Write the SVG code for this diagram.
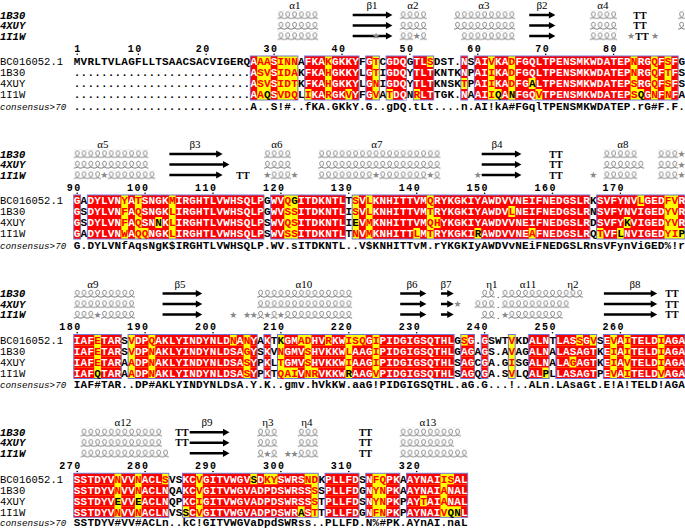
<svg xmlns="http://www.w3.org/2000/svg" xmlns:xlink="http://www.w3.org/1999/xlink" width="685" height="528" viewBox="0 0 685 528">
<style>
.nm{font-family:"Liberation Mono",monospace;font-size:10.5px;fill:#000}
.sl{font-family:"Liberation Mono",monospace;font-size:10.5px;font-weight:bold;font-style:italic;fill:#000}
.cl{font-family:"Liberation Mono",monospace;font-size:9.2px;font-style:italic;fill:#000}
.sq{font-family:"Liberation Mono",monospace;font-size:11px;font-weight:bold;letter-spacing:0.19px;fill:#fff}
.sq .r{fill:#f00}
.sq .b{fill:#000}
.cs{font-family:"Liberation Mono",monospace;font-size:11px;font-weight:bold;letter-spacing:0.19px;fill:#000}
.num{font-family:"Liberation Mono",monospace;font-size:10px;font-weight:bold;letter-spacing:1.5px;text-anchor:end;fill:#000}
.lab{font-family:"Liberation Serif",serif;font-size:11px;text-anchor:middle;fill:#000}
.tt{font-family:"Liberation Serif",serif;font-size:10px;font-weight:bold;text-anchor:middle;fill:#000}
.st{font-family:"DejaVu Sans",sans-serif;font-size:9px;fill:#888;text-anchor:middle}
.hd{font-family:"Liberation Serif",serif;font-size:10px;fill:#444;text-anchor:middle}
.fy{fill:#ff0;stroke:none}
.fo{fill:none;stroke:#7373d6;stroke-width:1}
.rd{fill:#f00}
.hx{fill:url(#hx)}
.ar{fill:#000}
.dt{fill:#000}
</style>
<defs>
<pattern id="hx" patternUnits="userSpaceOnUse" x="73.8" y="-4.5" width="6.79" height="9"><path d="M-0.2,8.2 C2.6,8.2 5.4,6 5.4,3.4 C5.4,0.6 1.6,0.6 1.6,3.4 C1.6,6 4.2,8.2 7,8.2" fill="none" stroke="#666" stroke-width="0.85"/></pattern>
<g id="f1"><rect x="250.34" y="-5.5" width="47.53" height="44"/><rect x="304.66" y="-5.5" width="54.32" height="44"/><rect x="365.77" y="-5.5" width="13.58" height="44"/><rect x="386.14" y="-5.5" width="20.37" height="44"/><rect x="413.3" y="-5.5" width="20.37" height="44"/><rect x="460.83" y="-5.5" width="6.79" height="44"/><rect x="474.41" y="-5.5" width="203.7" height="44"/></g>
<g id="f2"><rect x="73.8" y="-5.5" width="6.79" height="44"/><rect x="87.38" y="-5.5" width="176.54" height="44"/><rect x="270.71" y="-5.5" width="74.69" height="44"/><rect x="352.19" y="-5.5" width="237.65" height="44"/><rect x="596.63" y="-5.5" width="88.27" height="44"/></g>
<g id="f3"><rect x="73.8" y="-5.5" width="47.53" height="44"/><rect x="128.12" y="-5.5" width="129.01" height="44"/><rect x="263.92" y="-5.5" width="6.79" height="44"/><rect x="277.5" y="-5.5" width="176.54" height="44"/><rect x="460.83" y="-5.5" width="13.58" height="44"/><rect x="481.2" y="-5.5" width="6.79" height="44"/><rect x="508.36" y="-5.5" width="6.79" height="44"/><rect x="528.73" y="-5.5" width="20.37" height="44"/><rect x="555.89" y="-5.5" width="40.74" height="44"/><rect x="603.42" y="-5.5" width="81.48" height="44"/></g>
<g id="f4"><rect x="73.8" y="-5.5" width="95.06" height="44"/><rect x="182.44" y="-5.5" width="135.8" height="44"/><rect x="325.03" y="-5.5" width="33.95" height="44"/><rect x="365.77" y="-5.5" width="33.95" height="44"/><rect x="406.51" y="-5.5" width="61.11" height="44"/></g>
</defs>
<rect width="685" height="528" fill="#fff"/>

<g id="block1" transform="translate(0,61.5)">
<g id="ss1">
<text class="lab" x="295" y="-52.5">α1</text><text class="lab" x="372" y="-52.5">β1</text><text class="lab" x="413" y="-52.5">α2</text><text class="lab" x="484" y="-52.5">α3</text><text class="lab" x="542" y="-52.5">β2</text><text class="lab" x="603" y="-52.5">α4</text>
<g transform="translate(0,-46.5)"><text class="sl" x="0" y="3.5">1B30</text><rect class="hx" x="277.5" y="-4.5" width="40.74" height="9"/><path class="ar" d="M352.69,-1.2H385.93V-3.6L392.43,0L385.93,3.6V1.2H352.69Z"/><rect class="hx" x="399.72" y="-4.5" width="27.16" height="9"/><rect class="hx" x="454.04" y="-4.5" width="61.11" height="9"/><path class="ar" d="M529.23,-1.2H548.89V-3.6L555.39,0L548.89,3.6V1.2H529.23Z"/><rect class="hx" x="589.84" y="-4.5" width="27.16" height="9"/><text class="tt" x="640" y="3.5">TT</text><rect class="hx" x="678.11" y="-4.5" width="6.79" height="9"/></g>
<g transform="translate(0,-36)"><text class="sl" x="0" y="3.5">4XUY</text><rect class="hx" x="277.5" y="-4.5" width="40.74" height="9"/><path class="ar" d="M352.69,-1.2H385.93V-3.6L392.43,0L385.93,3.6V1.2H352.69Z"/><rect class="hx" x="399.72" y="-4.5" width="27.16" height="9"/><rect class="hx" x="454.04" y="-4.5" width="61.11" height="9"/><path class="ar" d="M529.23,-1.2H548.89V-3.6L555.39,0L548.89,3.6V1.2H529.23Z"/><rect class="hx" x="589.84" y="-4.5" width="27.16" height="9"/><text class="tt" x="640" y="3.5">TT</text><rect class="hx" x="678.11" y="-4.5" width="6.79" height="9"/></g>
<g transform="translate(0,-25.5)"><text class="sl" x="0" y="3.5">1I1W</text><rect class="hx" x="277.5" y="-4.5" width="40.74" height="9"/><path class="ar" d="M352.69,-1.2H385.93V-3.6L392.43,0L385.93,3.6V1.2H352.69Z"/><text class="st" x="376" y="3.2">★</text><rect class="hx" x="399.72" y="-4.5" width="13.58" height="9"/><text class="st" x="416.7" y="3.2">★</text><rect class="hx" x="420.09" y="-4.5" width="6.79" height="9"/><rect class="hx" x="460.83" y="-4.5" width="54.32" height="9"/><path class="ar" d="M529.23,-1.2H548.89V-3.6L555.39,0L548.89,3.6V1.2H529.23Z"/><rect class="hx" x="589.84" y="-4.5" width="27.16" height="9"/><text class="st" x="631" y="3.2">★</text><text class="tt" x="642" y="3.5">TT</text><text class="st" x="655" y="3.2">★</text></g>
</g>
<g id="num1"><text class="num" x="81.7" y="-10">1</text><text class="num" x="142.8" y="-10">10</text><text class="num" x="210.7" y="-10">20</text><text class="num" x="278.6" y="-10">30</text><text class="num" x="346.5" y="-10">40</text><text class="num" x="414.4" y="-10">50</text><text class="num" x="482.3" y="-10">60</text><text class="num" x="550.2" y="-10">70</text><text class="num" x="618.1" y="-10">80</text>
<circle class="dt" cx="77.2" cy="-7.3" r="0.8"/><circle class="dt" cx="138.3" cy="-7.3" r="0.8"/><circle class="dt" cx="206.2" cy="-7.3" r="0.8"/><circle class="dt" cx="274.1" cy="-7.3" r="0.8"/><circle class="dt" cx="342" cy="-7.3" r="0.8"/><circle class="dt" cx="409.9" cy="-7.3" r="0.8"/><circle class="dt" cx="477.8" cy="-7.3" r="0.8"/><circle class="dt" cx="545.7" cy="-7.3" r="0.8"/><circle class="dt" cx="613.6" cy="-7.3" r="0.8"/></g>
<use href="#f1" class="fy"/>
<g class="rd" transform="translate(73.8,0) scale(6.79,1)">
<g transform="translate(0,-5.5)"><rect x="26" width="1" height="11"/><rect x="29" width="1" height="11"/><rect x="34" width="3" height="11"/><rect x="38" width="4" height="11"/><rect x="43" width="1" height="11"/><rect x="46" width="3" height="11"/><rect x="50" width="2" height="11"/><rect x="57" width="1" height="11"/><rect x="59" width="2" height="11"/><rect x="62" width="2" height="11"/><rect x="65" width="17" height="11"/><rect x="83" width="2" height="11"/><rect x="86" width="1" height="11"/><rect x="88" width="1" height="11"/></g>
<g transform="translate(0,5.5)"><rect x="26" width="1" height="11"/><rect x="29" width="1" height="11"/><rect x="34" width="3" height="11"/><rect x="38" width="4" height="11"/><rect x="43" width="1" height="11"/><rect x="46" width="3" height="11"/><rect x="50" width="3" height="11"/><rect x="57" width="1" height="11"/><rect x="59" width="2" height="11"/><rect x="62" width="2" height="11"/><rect x="65" width="17" height="11"/><rect x="83" width="2" height="11"/><rect x="86" width="1" height="11"/><rect x="88" width="1" height="11"/></g>
<g transform="translate(0,16.5)"><rect x="26" width="1" height="11"/><rect x="29" width="1" height="11"/><rect x="34" width="3" height="11"/><rect x="38" width="4" height="11"/><rect x="43" width="1" height="11"/><rect x="46" width="3" height="11"/><rect x="50" width="3" height="11"/><rect x="59" width="2" height="11"/><rect x="62" width="2" height="11"/><rect x="65" width="2" height="11"/><rect x="68" width="14" height="11"/><rect x="83" width="2" height="11"/><rect x="86" width="1" height="11"/><rect x="88" width="1" height="11"/></g>
<g transform="translate(0,27.5)"><rect x="26" width="1" height="11"/><rect x="29" width="1" height="11"/><rect x="35" width="2" height="11"/><rect x="38" width="2" height="11"/><rect x="41" width="1" height="11"/><rect x="43" width="1" height="11"/><rect x="47" width="2" height="11"/><rect x="51" width="2" height="11"/><rect x="57" width="1" height="11"/><rect x="59" width="2" height="11"/><rect x="63" width="1" height="11"/><rect x="65" width="3" height="11"/><rect x="69" width="13" height="11"/><rect x="84" width="1" height="11"/><rect x="86" width="1" height="11"/><rect x="88" width="1" height="11"/></g>
</g>
<use href="#f1" class="fo"/>
<g id="seq1">
<text class="nm" x="0" y="3.8">BC016052.1</text><text class="nm" x="0" y="14.8">1B30</text><text class="nm" x="0" y="25.8">4XUY</text><text class="nm" x="0" y="36.8">1I1W</text><text class="cl" x="0" y="48">consensus&gt;70</text>
<text class="sq" x="73.8" y="3.8"><tspan class="b">MVRLTVLAGFLLTSAACSACVIGERQ</tspan>A<tspan class="r">AA</tspan>S<tspan class="r">INN</tspan><tspan class="b">A</tspan>FKA<tspan class="r">K</tspan>GKKY<tspan class="b">F</tspan>G<tspan class="r">T</tspan><tspan class="b">C</tspan>GDQ<tspan class="b">G</tspan>TL<tspan class="r">S</tspan><tspan class="b">DST.</tspan>N<tspan class="b">S</tspan>AI<tspan class="r">V</tspan>KA<tspan class="r">D</tspan>FGQLTPENSMKWDATEP<tspan class="r">N</tspan>RG<tspan class="r">Q</tspan>F<tspan class="r">S</tspan>F<tspan class="b">G</tspan></text>
<text class="sq" x="73.8" y="14.8"><tspan class="b">..........................</tspan>A<tspan class="r">SV</tspan>S<tspan class="r">IDA</tspan><tspan class="b">K</tspan>FKA<tspan class="r">H</tspan>GKKY<tspan class="b">L</tspan>G<tspan class="r">T</tspan><tspan class="b">I</tspan>GDQ<tspan class="b">Y</tspan>TLT<tspan class="b">KNTK</tspan>N<tspan class="b">P</tspan>AI<tspan class="r">I</tspan>KA<tspan class="r">D</tspan>FGQLTPENSMKWDATEP<tspan class="r">N</tspan>RG<tspan class="r">Q</tspan>F<tspan class="r">T</tspan>F<tspan class="b">S</tspan></text>
<text class="sq" x="73.8" y="25.8"><tspan class="b">..........................</tspan>A<tspan class="r">SV</tspan>S<tspan class="r">IDT</tspan><tspan class="b">K</tspan>FKA<tspan class="r">H</tspan>GKKY<tspan class="b">L</tspan>G<tspan class="r">N</tspan><tspan class="b">I</tspan>GDQ<tspan class="b">Y</tspan>TLT<tspan class="b">KNSK</tspan><tspan class="r">T</tspan><tspan class="b">P</tspan>AI<tspan class="r">I</tspan>KA<tspan class="r">D</tspan>FG<tspan class="b">A</tspan>LTPENSMKWDATEP<tspan class="r">S</tspan>RG<tspan class="r">Q</tspan>F<tspan class="r">S</tspan>F<tspan class="b">S</tspan></text>
<text class="sq" x="73.8" y="36.8"><tspan class="b">..........................</tspan>A<tspan class="r">A</tspan><tspan class="b">Q</tspan>S<tspan class="r">VDQ</tspan><tspan class="b">L</tspan><tspan class="r">I</tspan>KA<tspan class="r">R</tspan>GK<tspan class="r">V</tspan>Y<tspan class="b">F</tspan>G<tspan class="r">V</tspan><tspan class="b">A</tspan><tspan class="r">T</tspan>DQ<tspan class="b">N</tspan><tspan class="r">R</tspan>LT<tspan class="b">TGK.</tspan>N<tspan class="b">A</tspan>AI<tspan class="r">I</tspan><tspan class="b">Q</tspan>A<tspan class="b">N</tspan>FGQ<tspan class="r">V</tspan>TPENSMKWDATEP<tspan class="r">S</tspan><tspan class="b">Q</tspan>G<tspan class="r">N</tspan>F<tspan class="r">N</tspan>F<tspan class="b">A</tspan></text>
<text class="cs" x="73.8" y="48">..........................A..S!#..fKA.GKkY.G..gDQ.tLt....n.AI!kA#FGqlTPENSMKWDATEP.rG#F.F.</text>
</g>
</g>

<g id="block2" transform="translate(0,200.5)">
<g id="ss2">
<text class="lab" x="103" y="-52.5">α5</text><text class="lab" x="195" y="-52.5">β3</text><text class="lab" x="277" y="-52.5">α6</text><text class="lab" x="377" y="-52.5">α7</text><text class="lab" x="497" y="-52.5">β4</text><text class="lab" x="623" y="-52.5">α8</text>
<g transform="translate(0,-46.5)"><text class="sl" x="0" y="3.5">1B30</text><rect class="hx" x="73.8" y="-4.5" width="74.69" height="9"/><path class="ar" d="M169.36,-1.2H216.18V-3.6L222.68,0L216.18,3.6V1.2H169.36Z"/><rect class="hx" x="263.92" y="-4.5" width="27.16" height="9"/><rect class="hx" x="318.24" y="-4.5" width="122.22" height="9"/><path class="ar" d="M481.7,-1.2H514.94V-3.6L521.44,0L514.94,3.6V1.2H481.7Z"/><text class="tt" x="555.9" y="3.5">TT</text><rect class="hx" x="603.42" y="-4.5" width="33.95" height="9"/><rect class="hx" x="657.74" y="-4.5" width="20.37" height="9"/><text class="st" x="681.5" y="3.2">★</text></g>
<g transform="translate(0,-36)"><text class="sl" x="0" y="3.5">4XUY</text><rect class="hx" x="73.8" y="-4.5" width="74.69" height="9"/><path class="ar" d="M169.36,-1.2H222.97V-3.6L229.47,0L222.97,3.6V1.2H169.36Z"/><rect class="hx" x="263.92" y="-4.5" width="27.16" height="9"/><rect class="hx" x="318.24" y="-4.5" width="122.22" height="9"/><path class="ar" d="M481.7,-1.2H514.94V-3.6L521.44,0L514.94,3.6V1.2H481.7Z"/><text class="tt" x="555.9" y="3.5">TT</text><rect class="hx" x="603.42" y="-4.5" width="40.74" height="9"/><rect class="hx" x="657.74" y="-4.5" width="20.37" height="9"/><text class="st" x="681.5" y="3.2">★</text></g>
<g transform="translate(0,-25.5)"><text class="sl" x="0" y="3.5">1I1W</text><rect class="hx" x="73.8" y="-4.5" width="27.16" height="9"/><text class="st" x="104.4" y="3.2">★</text><rect class="hx" x="107.75" y="-4.5" width="47.53" height="9"/><path class="ar" d="M169.36,-1.2H216.18V-3.6L222.68,0L216.18,3.6V1.2H169.36Z"/><text class="tt" x="243" y="3.5">TT</text><text class="st" x="267.3" y="3.2">★</text><rect class="hx" x="270.71" y="-4.5" width="20.37" height="9"/><text class="st" x="294.5" y="3.2">★</text><rect class="hx" x="318.24" y="-4.5" width="54.32" height="9"/><text class="st" x="376" y="3.2">★</text><rect class="hx" x="379.35" y="-4.5" width="47.53" height="9"/><text class="st" x="430.3" y="3.2">★</text><rect class="hx" x="433.67" y="-4.5" width="6.79" height="9"/><text class="st" x="477.8" y="3.2">★</text><path class="ar" d="M481.7,-1.2H514.94V-3.6L521.44,0L514.94,3.6V1.2H481.7Z"/><text class="tt" x="555.9" y="3.5">TT</text><text class="st" x="593.2" y="3.2">★</text><rect class="hx" x="603.42" y="-4.5" width="33.95" height="9"/><rect class="hx" x="657.74" y="-4.5" width="20.37" height="9"/><text class="st" x="681.5" y="3.2">★</text></g>
</g>
<g id="num2"><text class="num" x="81.7" y="-10">90</text><text class="num" x="149.6" y="-10">100</text><text class="num" x="217.5" y="-10">110</text><text class="num" x="285.4" y="-10">120</text><text class="num" x="353.3" y="-10">130</text><text class="num" x="421.2" y="-10">140</text><text class="num" x="489.1" y="-10">150</text><text class="num" x="557" y="-10">160</text><text class="num" x="624.9" y="-10">170</text>
<circle class="dt" cx="77.2" cy="-7.3" r="0.8"/><circle class="dt" cx="145.1" cy="-7.3" r="0.8"/><circle class="dt" cx="213" cy="-7.3" r="0.8"/><circle class="dt" cx="280.9" cy="-7.3" r="0.8"/><circle class="dt" cx="348.8" cy="-7.3" r="0.8"/><circle class="dt" cx="416.7" cy="-7.3" r="0.8"/><circle class="dt" cx="484.6" cy="-7.3" r="0.8"/><circle class="dt" cx="552.5" cy="-7.3" r="0.8"/><circle class="dt" cx="620.4" cy="-7.3" r="0.8"/></g>
<use href="#f2" class="fy"/>
<g class="rd" transform="translate(73.8,0) scale(6.79,1)">
<g transform="translate(0,-5.5)"><rect x="0" width="1" height="11"/><rect x="2" width="5" height="11"/><rect x="8" width="1" height="11"/><rect x="10" width="4" height="11"/><rect x="15" width="13" height="11"/><rect x="29" width="2" height="11"/><rect x="33" width="7" height="11"/><rect x="42" width="1" height="11"/><rect x="44" width="8" height="11"/><rect x="53" width="23" height="11"/><rect x="77" width="6" height="11"/><rect x="84" width="3" height="11"/><rect x="89" width="1" height="11"/></g>
<g transform="translate(0,5.5)"><rect x="0" width="1" height="11"/><rect x="2" width="5" height="11"/><rect x="8" width="1" height="11"/><rect x="10" width="4" height="11"/><rect x="15" width="13" height="11"/><rect x="29" width="2" height="11"/><rect x="33" width="7" height="11"/><rect x="42" width="1" height="11"/><rect x="44" width="8" height="11"/><rect x="53" width="11" height="11"/><rect x="65" width="11" height="11"/><rect x="77" width="10" height="11"/><rect x="89" width="1" height="11"/></g>
<g transform="translate(0,16.5)"><rect x="0" width="1" height="11"/><rect x="2" width="5" height="11"/><rect x="8" width="1" height="11"/><rect x="10" width="2" height="11"/><rect x="13" width="1" height="11"/><rect x="15" width="13" height="11"/><rect x="29" width="2" height="11"/><rect x="33" width="7" height="11"/><rect x="42" width="1" height="11"/><rect x="44" width="8" height="11"/><rect x="54" width="22" height="11"/><rect x="77" width="4" height="11"/><rect x="82" width="5" height="11"/><rect x="89" width="1" height="11"/></g>
<g transform="translate(0,27.5)"><rect x="0" width="1" height="11"/><rect x="2" width="5" height="11"/><rect x="8" width="1" height="11"/><rect x="11" width="3" height="11"/><rect x="15" width="13" height="11"/><rect x="29" width="2" height="11"/><rect x="33" width="7" height="11"/><rect x="42" width="1" height="11"/><rect x="44" width="6" height="11"/><rect x="51" width="1" height="11"/><rect x="53" width="6" height="11"/><rect x="60" width="7" height="11"/><rect x="68" width="8" height="11"/><rect x="78" width="2" height="11"/><rect x="81" width="6" height="11"/></g>
</g>
<use href="#f2" class="fo"/>
<g id="seq2">
<text class="nm" x="0" y="3.8">BC016052.1</text><text class="nm" x="0" y="14.8">1B30</text><text class="nm" x="0" y="25.8">4XUY</text><text class="nm" x="0" y="36.8">1I1W</text><text class="cl" x="0" y="48">consensus&gt;70</text>
<text class="sq" x="73.8" y="3.8">G<tspan class="b">A</tspan>DYLVN<tspan class="r">Y</tspan>A<tspan class="r">T</tspan>SNGK<tspan class="r">M</tspan>IRGHTLVWHSQLP<tspan class="b">G</tspan>WV<tspan class="r">Q</tspan><tspan class="b">G</tspan>ITDKNTL<tspan class="b">T</tspan><tspan class="r">S</tspan>V<tspan class="r">L</tspan>KNHITTVM<tspan class="r">Q</tspan>RYKGKIYAWDVVNEIFNEDGSLR<tspan class="b">K</tspan>SVFYNV<tspan class="r">L</tspan>GED<tspan class="r">FV</tspan>R</text>
<text class="sq" x="73.8" y="14.8">G<tspan class="b">S</tspan>DYLVN<tspan class="r">F</tspan>A<tspan class="r">Q</tspan>SNGK<tspan class="r">L</tspan>IRGHTLVWHSQLP<tspan class="b">G</tspan>WV<tspan class="r">SS</tspan>ITDKNTL<tspan class="b">I</tspan><tspan class="r">S</tspan>V<tspan class="r">L</tspan>KNHITTVM<tspan class="r">T</tspan>RYKGKIYAWDV<tspan class="r">L</tspan>NEIFNEDGSLR<tspan class="b">N</tspan>SVFYNVIGED<tspan class="r">YV</tspan>R</text>
<text class="sq" x="73.8" y="25.8">G<tspan class="b">S</tspan>DYLVN<tspan class="r">F</tspan>A<tspan class="r">Q</tspan>SN<tspan class="b">N</tspan>K<tspan class="r">L</tspan>IRGHTLVWHSQLP<tspan class="b">S</tspan>WV<tspan class="r">QS</tspan>ITDKNTL<tspan class="b">IE</tspan>V<tspan class="r">M</tspan>KNHITTVM<tspan class="r">QH</tspan>YKGKIYAWDVVNEIFNEDGSLR<tspan class="b">D</tspan>SVFY<tspan class="b">K</tspan>VIGED<tspan class="r">YV</tspan>R</text>
<text class="sq" x="73.8" y="36.8">G<tspan class="b">A</tspan>DYLVN<tspan class="r">W</tspan>A<tspan class="r">QQ</tspan>NGK<tspan class="r">L</tspan>IRGHTLVWHSQLP<tspan class="b">S</tspan>WV<tspan class="r">SS</tspan>ITDKNTL<tspan class="b">T</tspan><tspan class="r">N</tspan>V<tspan class="r">M</tspan>KNHITT<tspan class="r">L</tspan>M<tspan class="r">T</tspan>RYKGKI<tspan class="b">R</tspan>AWDVVNE<tspan class="r">A</tspan>FNEDGSLR<tspan class="b">Q</tspan><tspan class="r">T</tspan>VF<tspan class="b">L</tspan>NVIGED<tspan class="r">YI</tspan><tspan class="b">P</tspan></text>
<text class="cs" x="73.8" y="48">G.DYLVNfAqsNgK$IRGHTLVWHSQLP.WV.sITDKNTL..V$KNHITTvM.rYKGKIyAWDVvNEiFNEDGSLRnsVFynViGED%!r</text>
</g>
</g>

<g id="block3" transform="translate(0,340)">
<g id="ss3">
<text class="lab" x="93" y="-52.5">α9</text><text class="lab" x="180" y="-52.5">β5</text><text class="lab" x="304" y="-52.5">α10</text><text class="lab" x="412" y="-52.5">β6</text><text class="lab" x="446" y="-52.5">β7</text><text class="lab" x="492" y="-52.5">η1</text><text class="lab" x="528" y="-52.5">α11</text><text class="lab" x="573" y="-52.5">η2</text><text class="lab" x="635" y="-52.5">β8</text>
<g transform="translate(0,-46.5)"><text class="sl" x="0" y="3.5">1B30</text><rect class="hx" x="73.8" y="-4.5" width="61.11" height="9"/><path class="ar" d="M162.57,-1.2H195.81V-3.6L202.31,0L195.81,3.6V1.2H162.57Z"/><rect class="hx" x="257.13" y="-4.5" width="95.06" height="9"/><path class="ar" d="M400.22,-1.2H419.88V-3.6L426.38,0L419.88,3.6V1.2H400.22Z"/><path class="ar" d="M440.96,-1.2H447.25V-3.6L453.75,0L447.25,3.6V1.2H440.96Z"/><rect class="hx" x="481.2" y="-4.5" width="13.58" height="9"/><text class="hd" x="498.2" y="4">.</text><rect class="hx" x="501.57" y="-4.5" width="81.48" height="9"/><path class="ar" d="M603.92,-1.2H650.74V-3.6L657.24,0L650.74,3.6V1.2H603.92Z"/><text class="tt" x="672" y="3.5">TT</text></g>
<g transform="translate(0,-36)"><text class="sl" x="0" y="3.5">4XUY</text><rect class="hx" x="73.8" y="-4.5" width="61.11" height="9"/><path class="ar" d="M162.57,-1.2H195.81V-3.6L202.31,0L195.81,3.6V1.2H162.57Z"/><rect class="hx" x="257.13" y="-4.5" width="95.06" height="9"/><path class="ar" d="M400.22,-1.2H419.88V-3.6L426.38,0L419.88,3.6V1.2H400.22Z"/><path class="ar" d="M440.96,-1.2H447.25V-3.6L453.75,0L447.25,3.6V1.2H440.96Z"/><text class="st" x="457.5" y="3.2">★</text><rect class="hx" x="474.41" y="-4.5" width="20.37" height="9"/><text class="hd" x="498.2" y="4">.</text><rect class="hx" x="501.57" y="-4.5" width="67.9" height="9"/><path class="ar" d="M603.92,-1.2H650.74V-3.6L657.24,0L650.74,3.6V1.2H603.92Z"/><text class="tt" x="672" y="3.5">TT</text></g>
<g transform="translate(0,-25.5)"><text class="sl" x="0" y="3.5">1I1W</text><rect class="hx" x="73.8" y="-4.5" width="20.37" height="9"/><text class="st" x="97.6" y="3.2">★</text><rect class="hx" x="100.96" y="-4.5" width="33.95" height="9"/><path class="ar" d="M162.57,-1.2H195.81V-3.6L202.31,0L195.81,3.6V1.2H162.57Z"/><text class="st" x="233.4" y="3.2">★</text><text class="st" x="247" y="3.2">★</text><text class="st" x="253.7" y="3.2">★</text><rect class="hx" x="257.13" y="-4.5" width="6.79" height="9"/><text class="st" x="267.3" y="3.2">★</text><rect class="hx" x="270.71" y="-4.5" width="6.79" height="9"/><text class="st" x="280.9" y="3.2">★</text><rect class="hx" x="284.29" y="-4.5" width="67.9" height="9"/><path class="ar" d="M400.22,-1.2H419.88V-3.6L426.38,0L419.88,3.6V1.2H400.22Z"/><path class="ar" d="M440.96,-1.2H447.25V-3.6L453.75,0L447.25,3.6V1.2H440.96Z"/><rect class="hx" x="481.2" y="-4.5" width="13.58" height="9"/><text class="hd" x="498.2" y="4">.</text><text class="st" x="505" y="3.2">★</text><rect class="hx" x="508.36" y="-4.5" width="54.32" height="9"/><path class="ar" d="M603.92,-1.2H650.74V-3.6L657.24,0L650.74,3.6V1.2H603.92Z"/><text class="tt" x="672" y="3.5">TT</text></g>
</g>
<g id="num3"><text class="num" x="81.7" y="-10">180</text><text class="num" x="149.6" y="-10">190</text><text class="num" x="217.5" y="-10">200</text><text class="num" x="285.4" y="-10">210</text><text class="num" x="353.3" y="-10">220</text><text class="num" x="421.2" y="-10">230</text><text class="num" x="489.1" y="-10">240</text><text class="num" x="557" y="-10">250</text><text class="num" x="624.9" y="-10">260</text>
<circle class="dt" cx="77.2" cy="-7.3" r="0.8"/><circle class="dt" cx="145.1" cy="-7.3" r="0.8"/><circle class="dt" cx="213" cy="-7.3" r="0.8"/><circle class="dt" cx="280.9" cy="-7.3" r="0.8"/><circle class="dt" cx="348.8" cy="-7.3" r="0.8"/><circle class="dt" cx="416.7" cy="-7.3" r="0.8"/><circle class="dt" cx="484.6" cy="-7.3" r="0.8"/><circle class="dt" cx="552.5" cy="-7.3" r="0.8"/><circle class="dt" cx="620.4" cy="-7.3" r="0.8"/></g>
<use href="#f3" class="fy"/>
<g class="rd" transform="translate(73.8,0) scale(6.79,1)">
<g transform="translate(0,-5.5)"><rect x="0" width="3" height="11"/><rect x="4" width="3" height="11"/><rect x="9" width="2" height="11"/><rect x="12" width="11" height="11"/><rect x="24" width="1" height="11"/><rect x="26" width="1" height="11"/><rect x="28" width="1" height="11"/><rect x="31" width="2" height="11"/><rect x="35" width="2" height="11"/><rect x="38" width="2" height="11"/><rect x="43" width="1" height="11"/><rect x="45" width="11" height="11"/><rect x="58" width="1" height="11"/><rect x="60" width="1" height="11"/><rect x="67" width="3" height="11"/><rect x="71" width="3" height="11"/><rect x="75" width="1" height="11"/><rect x="78" width="1" height="11"/><rect x="80" width="1" height="11"/><rect x="82" width="4" height="11"/><rect x="87" width="3" height="11"/></g>
<g transform="translate(0,5.5)"><rect x="0" width="3" height="11"/><rect x="4" width="3" height="11"/><rect x="9" width="2" height="11"/><rect x="12" width="13" height="11"/><rect x="26" width="1" height="11"/><rect x="28" width="1" height="11"/><rect x="31" width="3" height="11"/><rect x="35" width="5" height="11"/><rect x="41" width="3" height="11"/><rect x="45" width="11" height="11"/><rect x="57" width="2" height="11"/><rect x="60" width="1" height="11"/><rect x="67" width="3" height="11"/><rect x="71" width="6" height="11"/><rect x="78" width="1" height="11"/><rect x="80" width="1" height="11"/><rect x="82" width="4" height="11"/><rect x="87" width="3" height="11"/></g>
<g transform="translate(0,16.5)"><rect x="0" width="3" height="11"/><rect x="4" width="3" height="11"/><rect x="9" width="2" height="11"/><rect x="12" width="13" height="11"/><rect x="26" width="1" height="11"/><rect x="28" width="1" height="11"/><rect x="31" width="3" height="11"/><rect x="35" width="5" height="11"/><rect x="41" width="3" height="11"/><rect x="45" width="11" height="11"/><rect x="57" width="2" height="11"/><rect x="60" width="1" height="11"/><rect x="67" width="3" height="11"/><rect x="71" width="2" height="11"/><rect x="74" width="3" height="11"/><rect x="78" width="1" height="11"/><rect x="80" width="1" height="11"/><rect x="82" width="4" height="11"/><rect x="87" width="3" height="11"/></g>
<g transform="translate(0,27.5)"><rect x="0" width="3" height="11"/><rect x="4" width="3" height="11"/><rect x="9" width="2" height="11"/><rect x="12" width="13" height="11"/><rect x="26" width="1" height="11"/><rect x="28" width="1" height="11"/><rect x="33" width="1" height="11"/><rect x="36" width="4" height="11"/><rect x="41" width="3" height="11"/><rect x="45" width="11" height="11"/><rect x="57" width="2" height="11"/><rect x="60" width="1" height="11"/><rect x="67" width="2" height="11"/><rect x="71" width="6" height="11"/><rect x="78" width="1" height="11"/><rect x="80" width="1" height="11"/><rect x="82" width="4" height="11"/><rect x="87" width="3" height="11"/></g>
</g>
<use href="#f3" class="fo"/>
<g id="seq3">
<text class="nm" x="0" y="3.8">BC016052.1</text><text class="nm" x="0" y="14.8">1B30</text><text class="nm" x="0" y="25.8">4XUY</text><text class="nm" x="0" y="36.8">1I1W</text><text class="cl" x="0" y="48">consensus&gt;70</text>
<text class="sq" x="73.8" y="3.8">IAF<tspan class="r">E</tspan>TAR<tspan class="b">S</tspan><tspan class="r">V</tspan>DP<tspan class="r">Q</tspan>AKLYINDYNLD<tspan class="r">N</tspan>A<tspan class="r">N</tspan>Y<tspan class="b">A</tspan>K<tspan class="b">TK</tspan>GM<tspan class="r">AD</tspan>HV<tspan class="r">R</tspan>KW<tspan class="r">ISQ</tspan>G<tspan class="r">I</tspan>PIDGIGSQTHL<tspan class="b">G</tspan><tspan class="r">S</tspan>G<tspan class="b">.</tspan>G<tspan class="b">SWT</tspan><tspan class="r">V</tspan><tspan class="b">KD</tspan>ALN<tspan class="b">T</tspan>LAS<tspan class="r">S</tspan>G<tspan class="r">V</tspan><tspan class="b">S</tspan>E<tspan class="r">V</tspan>A<tspan class="r">I</tspan>TELD<tspan class="r">I</tspan>AGA</text>
<text class="sq" x="73.8" y="14.8">IAF<tspan class="r">E</tspan>TAR<tspan class="b">S</tspan><tspan class="r">V</tspan>DP<tspan class="r">N</tspan>AKLYINDYNLDSA<tspan class="r">G</tspan>Y<tspan class="b">S</tspan>K<tspan class="b">V</tspan><tspan class="r">N</tspan>GMV<tspan class="r">S</tspan>HVKKW<tspan class="r">L</tspan>AAG<tspan class="r">I</tspan>PIDGIGSQTHL<tspan class="b">G</tspan>AG<tspan class="b">A</tspan>G<tspan class="b">S.A</tspan><tspan class="r">V</tspan><tspan class="b">AG</tspan>ALN<tspan class="b">A</tspan>LASAGT<tspan class="b">K</tspan>E<tspan class="r">I</tspan>A<tspan class="r">I</tspan>TELD<tspan class="r">I</tspan>AGA</text>
<text class="sq" x="73.8" y="25.8">IAF<tspan class="r">E</tspan>TAR<tspan class="b">A</tspan><tspan class="r">A</tspan>DP<tspan class="r">N</tspan>AKLYINDYNLDSA<tspan class="r">S</tspan>Y<tspan class="b">P</tspan>K<tspan class="b">L</tspan><tspan class="r">T</tspan>GMV<tspan class="r">S</tspan>HVKKW<tspan class="r">I</tspan>AAG<tspan class="r">I</tspan>PIDGIGSQTHL<tspan class="b">S</tspan>AG<tspan class="b">C</tspan>G<tspan class="b">A.G</tspan><tspan class="r">I</tspan><tspan class="b">SG</tspan>ALN<tspan class="b">A</tspan>LA<tspan class="r">G</tspan>AGT<tspan class="b">K</tspan>E<tspan class="r">I</tspan>A<tspan class="r">V</tspan>TELD<tspan class="r">I</tspan>AGA</text>
<text class="sq" x="73.8" y="36.8">IAF<tspan class="b">Q</tspan>TAR<tspan class="b">A</tspan><tspan class="r">A</tspan>DP<tspan class="r">N</tspan>AKLYINDYNLDSA<tspan class="r">S</tspan>Y<tspan class="b">P</tspan>K<tspan class="b">T</tspan><tspan class="r">QAI</tspan>V<tspan class="r">NR</tspan>VKKW<tspan class="b">R</tspan>AAG<tspan class="r">V</tspan>PIDGIGSQTHL<tspan class="b">S</tspan>AG<tspan class="b">Q</tspan>G<tspan class="b">A.S</tspan><tspan class="r">V</tspan><tspan class="b">LQ</tspan>AL<tspan class="b">PL</tspan>LASAGT<tspan class="b">P</tspan>E<tspan class="r">V</tspan>A<tspan class="r">I</tspan>TELD<tspan class="r">V</tspan>AGA</text>
<text class="cs" x="73.8" y="48">IAF#TAR..DP#AKLYINDYNLDsA.Y.K..gmv.hVkKW.aaG!PIDGIGSQTHL.aG.G...!..ALn.LAsaGt.E!A!TELD!AGA</text>
</g>
</g>

<g id="block4" transform="translate(0,478.8)">
<g id="ss4">
<text class="lab" x="123" y="-52.5">α12</text><text class="lab" x="207" y="-52.5">β9</text><text class="lab" x="268" y="-52.5">η3</text><text class="lab" x="307" y="-52.5">η4</text><text class="lab" x="428" y="-52.5">α13</text>
<g transform="translate(0,-46.5)"><text class="sl" x="0" y="3.5">1B30</text><rect class="hx" x="80.59" y="-4.5" width="81.48" height="9"/><text class="tt" x="182" y="3.5">TT</text><path class="ar" d="M189.73,-1.2H222.97V-3.6L229.47,0L222.97,3.6V1.2H189.73Z"/><rect class="hx" x="257.13" y="-4.5" width="20.37" height="9"/><rect class="hx" x="297.87" y="-4.5" width="20.37" height="9"/><text class="tt" x="365.6" y="3.5">TT</text><rect class="hx" x="399.72" y="-4.5" width="61.11" height="9"/></g>
<g transform="translate(0,-36)"><text class="sl" x="0" y="3.5">4XUY</text><rect class="hx" x="80.59" y="-4.5" width="81.48" height="9"/><text class="tt" x="182" y="3.5">TT</text><path class="ar" d="M189.73,-1.2H222.97V-3.6L229.47,0L222.97,3.6V1.2H189.73Z"/><rect class="hx" x="257.13" y="-4.5" width="20.37" height="9"/><rect class="hx" x="297.87" y="-4.5" width="20.37" height="9"/><text class="tt" x="365.6" y="3.5">TT</text><rect class="hx" x="399.72" y="-4.5" width="54.32" height="9"/></g>
<g transform="translate(0,-25.5)"><text class="sl" x="0" y="3.5">1I1W</text><rect class="hx" x="80.59" y="-4.5" width="88.27" height="9"/><path class="ar" d="M189.73,-1.2H222.97V-3.6L229.47,0L222.97,3.6V1.2H189.73Z"/><rect class="hx" x="257.13" y="-4.5" width="6.79" height="9"/><text class="st" x="267.3" y="3.2">★</text><rect class="hx" x="270.71" y="-4.5" width="6.79" height="9"/><text class="st" x="287.7" y="3.2">★</text><text class="st" x="294.5" y="3.2">★</text><rect class="hx" x="297.87" y="-4.5" width="20.37" height="9"/><text class="tt" x="365.6" y="3.5">TT</text><rect class="hx" x="399.72" y="-4.5" width="67.9" height="9"/></g>
</g>
<g id="num4"><text class="num" x="81.7" y="-10">270</text><text class="num" x="149.6" y="-10">280</text><text class="num" x="217.5" y="-10">290</text><text class="num" x="285.4" y="-10">300</text><text class="num" x="353.3" y="-10">310</text><text class="num" x="421.2" y="-10">320</text>
<circle class="dt" cx="77.2" cy="-7.3" r="0.8"/><circle class="dt" cx="145.1" cy="-7.3" r="0.8"/><circle class="dt" cx="213" cy="-7.3" r="0.8"/><circle class="dt" cx="280.9" cy="-7.3" r="0.8"/><circle class="dt" cx="348.8" cy="-7.3" r="0.8"/><circle class="dt" cx="416.7" cy="-7.3" r="0.8"/></g>
<use href="#f4" class="fy"/>
<g class="rd" transform="translate(73.8,0) scale(6.79,1)">
<g transform="translate(0,-5.5)"><rect x="0" width="6" height="11"/><rect x="7" width="2" height="11"/><rect x="10" width="3" height="11"/><rect x="16" width="2" height="11"/><rect x="19" width="7" height="11"/><rect x="27" width="1" height="11"/><rect x="30" width="4" height="11"/><rect x="37" width="5" height="11"/><rect x="43" width="1" height="11"/><rect x="46" width="2" height="11"/><rect x="49" width="5" height="11"/><rect x="56" width="2" height="11"/></g>
<g transform="translate(0,5.5)"><rect x="0" width="6" height="11"/><rect x="7" width="2" height="11"/><rect x="10" width="4" height="11"/><rect x="16" width="2" height="11"/><rect x="19" width="16" height="11"/><rect x="37" width="5" height="11"/><rect x="43" width="1" height="11"/><rect x="46" width="2" height="11"/><rect x="49" width="5" height="11"/><rect x="55" width="3" height="11"/></g>
<g transform="translate(0,16.5)"><rect x="0" width="6" height="11"/><rect x="7" width="2" height="11"/><rect x="10" width="4" height="11"/><rect x="16" width="2" height="11"/><rect x="19" width="16" height="11"/><rect x="37" width="5" height="11"/><rect x="43" width="1" height="11"/><rect x="46" width="2" height="11"/><rect x="49" width="2" height="11"/><rect x="52" width="2" height="11"/><rect x="55" width="3" height="11"/></g>
<g transform="translate(0,27.5)"><rect x="0" width="6" height="11"/><rect x="7" width="2" height="11"/><rect x="10" width="4" height="11"/><rect x="17" width="1" height="11"/><rect x="19" width="14" height="11"/><rect x="34" width="1" height="11"/><rect x="37" width="5" height="11"/><rect x="43" width="1" height="11"/><rect x="46" width="2" height="11"/><rect x="49" width="5" height="11"/><rect x="57" width="1" height="11"/></g>
</g>
<use href="#f4" class="fo"/>
<g id="seq4">
<text class="nm" x="0" y="3.8">BC016052.1</text><text class="nm" x="0" y="14.8">1B30</text><text class="nm" x="0" y="25.8">4XUY</text><text class="nm" x="0" y="36.8">1I1W</text><text class="cl" x="0" y="47.2">consensus&gt;70</text>
<text class="sq" x="73.8" y="3.8">SSTDYV<tspan class="r">N</tspan>VV<tspan class="r">N</tspan>ACL<tspan class="r">S</tspan><tspan class="b">VS</tspan>KC<tspan class="r">V</tspan>GITVWGV<tspan class="b">S</tspan>D<tspan class="r">KY</tspan>SWRS<tspan class="r">ND</tspan><tspan class="b">K</tspan>PLLFD<tspan class="b">S</tspan>N<tspan class="r">FQ</tspan>PK<tspan class="b">A</tspan>AYNAI<tspan class="r">IS</tspan>AL</text>
<text class="sq" x="73.8" y="14.8">SSTDYV<tspan class="r">N</tspan>VV<tspan class="r">N</tspan>ACLN<tspan class="b">QA</tspan>KC<tspan class="r">V</tspan>GITVWGVADPDSWRSS<tspan class="r">S</tspan><tspan class="b">S</tspan>PLLFD<tspan class="b">G</tspan>N<tspan class="r">YN</tspan>PK<tspan class="b">A</tspan>AYNAI<tspan class="r">A</tspan>NAL</text>
<text class="sq" x="73.8" y="25.8">SSTDYV<tspan class="b">E</tspan>VV<tspan class="b">E</tspan>ACLN<tspan class="b">QP</tspan>KC<tspan class="r">I</tspan>GITVWGVADPDSWRSS<tspan class="r">S</tspan><tspan class="b">T</tspan>PLLFD<tspan class="b">S</tspan>N<tspan class="r">YN</tspan>PK<tspan class="b">P</tspan>AY<tspan class="r">T</tspan>AI<tspan class="r">A</tspan>NAL</text>
<text class="sq" x="73.8" y="36.8">SSTDYV<tspan class="r">N</tspan>VV<tspan class="r">N</tspan>ACLN<tspan class="b">VSS</tspan>C<tspan class="r">V</tspan>GITVWGVADPDSWR<tspan class="b">A</tspan>S<tspan class="r">T</tspan><tspan class="b">T</tspan>PLLFD<tspan class="b">G</tspan>N<tspan class="r">FN</tspan>PK<tspan class="b">P</tspan>AYNAI<tspan class="r">V</tspan><tspan class="b">QN</tspan>L</text>
<text class="cs" x="73.8" y="47.2">SSTDYV#VV#ACLn..kC!GITVWGVaDpdSWRss..PLLFD.N%#PK.AYnAI.naL</text>
</g>
</g>
</svg>
